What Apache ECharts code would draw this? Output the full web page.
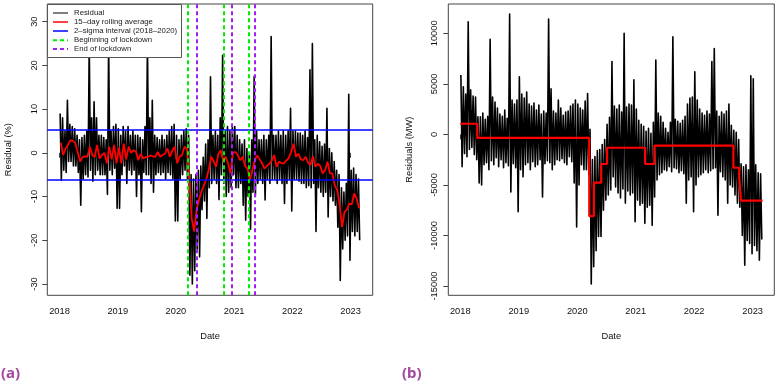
<!DOCTYPE html>
<html><head><meta charset="utf-8">
<script src="https://cdn.jsdelivr.net/npm/echarts@6/dist/echarts.min.js"></script>
<style>html,body{margin:0;padding:0;background:#fff}#c{width:776px;height:384px}</style>
</head><body><div id="c"></div>
<script>
// ---------- common ----------
const startYear = 2018;
const binsPerYear = 24; // half-month bins
const yearTicks = [2018, 2019, 2020, 2021, 2022, 2023];
const pctTicks = [-30, -20, -10, 0, 10, 20, 30];
const mwTicks = [-15000, -10000, -5000, 0, 5000, 10000];

// ---------- panel (a): residual (%) ----------
// upper / lower excursion of daily residuals in each half-month bin
const resPctHi = [
  9, 8, 5, 12, 6.5, 6, 5.5, 4, 3, 3.5, 4, 5, 25, 8, 11.7, 8, 4, 4, 3.5, 3, 25, 5, 6, 6.5,
  5.5, 4, 6, 5, 6, 4, 5, 4, 4, 3.5, 3, 6, 25, 8, 12, 4, 3.5, 3, 4, 3, 4, 5, 6, 6.5,
  4, 3, 4, 5, 5.5, 4, -5, -6, -5, -4, -3, -1, 2, 3, 17.4, 4, 5, 4, 8, 22.3, 5, 6, 5, 6,
  6, 4, 3, 2, 3, 1, 0, 3, 17.5, 5, 3, 3, 4, 3, 4, 26.6, 4, 4, 5, 4, 5, 4, 5, 10.2,
  5, 5, 4.5, 4.5, 4, 5, 3.5, 19, 25, 3, 4, 2.5, 1.5, 2, 10.2, 1, 0, -2, -4, -5, -8, -9, -7, 13.4,
  -4, -3.5, -5, -6
];
const resPctLo = [
  -6.3, -4, -4.5, -2, -2, -3, -3, -4.5, -12, -6, -5, -5.5, -4, -6.5, -5, -4, -5, -5, -5, -9.5, -4, -5, -3.5, -12.7,
  -12.7, -5, -3, -7, -4, -5, -4, -10, -5, -13.5, -4.5, -5, -5, -7, -9, -5, -4.5, -5, -4.5, -6, -4.5, -5, -6, -15.6,
  -15.6, -6, -5, -4, -6, -28, -30, -27, -22, -23.8, -13, -11, -15, -8, -7, -6, -7, -10.7, -5, -7, -10, -9, -8, -5,
  -8, -8, -7, -12, -15.4, -10, -17.5, -9, -10, -7, -6, -7, -10.8, -6, -7, -6, -6, -7, -6, -7, -11.6, -7, -6, -13.3,
  -6, -6, -6.5, -7, -7, -8, -7.5, -8, -7, -18, -8, -9, -10, -9, -14.7, -10, -11, -12, -17, -29.2, -22, -20, -19, -24.6,
  -18, -19, -18, -20
];
// 15-day rolling average, one value per half-month bin
const rollAvg = [
  2.3, -0.5, 1.0, 1.8, 2.9, 2.7, 2.2, 0.2, -2.0, -1.0, -0.8, -0.9, 1.4, -0.5, -1.0, 1.8, -1.3, -0.5, 0.0, -2.4, 1.4, -1.5, 1.8, -2.4,
  1.2, -2.4, 2.1, -1.5, 1.4, 0.0, 0.6, 0.3, -1.7, -0.2, -1.3, -1.0, -0.9, -0.6, -0.8, -0.9, 0.2, -0.9, -0.5, -0.2, 1.0, -0.9, 0.5, 1.4,
  -2.4, -0.9, -0.5, 1.4, 1.0, -6.0, -15.0, -18.0, -13.0, -10.8, -8.9, -7.5, -6.0, -4.0, -0.9, -1.8, -3.2, -0.2, 0.6, -2.0, -0.9, -2.5, -4.7, 0.0,
  0.2, -0.5, -1.7, -0.9, -3.0, -3.6, -6.3, -4.0, -1.7, -0.6, -1.5, -2.4, -3.6, -3.0, -2.5, -1.8, -0.5, -3.2, -2.0, -2.4, -2.4, -1.8, -1.2, 0.2,
  2.1, -0.9, -0.2, -1.5, -1.7, -0.9, -2.3, -2.8, -0.8, -3.2, -2.5, -3.0, -4.7, -4.0, -2.0, -4.7, -4.7, -7.5, -8.5, -12.0, -17.0, -13.5, -13.0, -11.6,
  -11.8, -9.3, -10.5, -12.7
];
const sigmaBounds = [5.35, -6.09];
const lockStart = [2020.21, 2020.82, 2021.25];
const lockEnd = [2020.355, 2020.957, 2021.36];

// ---------- panel (b): residuals (MW) ----------
const resMwHi = [
  5870, 4700, 4000, 11150, 4400, 3800, 3700, 1750, 1750, 2100, 1500, 1800, 9400, 3700, 3200, 2600, 2000, 1800, 2400, 1600, 11900, 3400, 3000, 3400,
  5700, 4000, 3600, 4200, 3000, 2800, 3100, 2400, 2900, 2000, 2300, 2100, 11400, 4500, 2300, 2100, 3400, 2600, 1900, 2200, 2300, 2800, 3000, 3400,
  3000, 2600, 2400, 3300, 4050, 500, -2500, -2200, -1600, -1500, -1000, -500, 1000, 1700, 7200, 2800, 2500, 2900, 2200, 10000, 2700, 3000, 2900, 5400,
  2500, 1400, 1000, 800, 300, 600, 100, 1200, 7350, 2100, 1800, 1200, 600, 200, 1200, 9650, 1500, 1300, 1100, 1400, 1800, 3000, 3600, 3700,
  6200, 3400, 2500, 2100, 1900, 2300, 2000, 7200, 8500, 2300, 1800, 2200, 2000, 2300, 3000, 900, 400, 200, -500, -2900, -3200, -3000, -3500, 5800,
  5500, -3000, -3800, -3900
];
const resMwLo = [
  -3200, -1900, -2200, -1500, -1300, -2000, -2500, -4800, -5000, -3000, -2800, -3500, -2600, -3000, -2300, -3200, -2500, -3300, -2800, -3100, -5700, -2900, -3300, -7650,
  -3500, -4200, -3000, -2800, -3500, -2700, -3200, -3000, -2500, -6200, -2900, -2600, -2800, -3500, -3000, -2500, -2600, -2400, -2800, -3000, -2200, -2700, -4800, -9150,
  -5000, -3000, -3500, -3500, -4000, -14800, -13100, -11500, -10100, -10100, -7500, -6500, -6000, -5500, -4200, -5200, -5800, -6300, -5400, -6800, -5600, -6000, -5800, -8650,
  -6500, -7000, -6800, -8800, -7200, -7000, -9000, -6200, -4500, -4000, -3800, -3500, -3600, -3200, -3700, -3300, -3400, -3800, -3600, -3900, -6800, -4500, -4200, -7650,
  -5000, -4200, -4000, -3800, -3500, -3800, -3600, -3400, -3300, -8000, -3700, -4200, -4500, -6800, -5000, -5200, -6000, -6800, -7200, -10000, -12950, -10500, -10800, -11800,
  -11000, -11500, -12450, -10400
];
// piecewise-constant level (red step)
const stepStart = [2018.0, 2018.29, 2020.205, 2020.285, 2020.41, 2020.51, 2021.16, 2021.32, 2022.67, 2022.77, 2022.80];
const stepLevel = [1050, -350, -8080, -4780, -2930, -1320, -2930, -1120, -3300, -4250, -6560];
const stepEnd = 2023.17;

// ---------- build ----------
function zigzag(hi, lo) {
  const out = [];
  for (let i = 0; i < hi.length; i++) {
    const t0 = startYear + i / binsPerYear;
    out.push([t0 + 0.25 / binsPerYear, hi[i]]);
    out.push([t0 + 0.75 / binsPerYear, lo[i]]);
  }
  return out;
}
const avgData = rollAvg.map((v, i) => [startYear + (i + 0.5) / binsPerYear, v]);
const stepData = stepStart.map((t, i) => [t, stepLevel[i]]).concat([[stepEnd, stepLevel[stepLevel.length - 1]]]);

const FF = 'Liberation Sans, Arial, Helvetica, sans-serif';
const txt = {color: '#111', fontFamily: FF, fontSize: 9.3};

function xAx(gi, min, max) {
  return {
    type: 'value', gridIndex: gi, min: min, max: max,
    splitLine: {show: false}, axisLine: {show: false},
    axisTick: {show: true, customValues: yearTicks, length: 5, lineStyle: {color: '#444'}},
    axisLabel: Object.assign({customValues: yearTicks, margin: 12, formatter: v => String(v)}, txt),
    name: 'Date', nameLocation: 'middle', nameGap: 37, nameTextStyle: Object.assign({}, txt)
  };
}
function yAx(gi, min, max, ticks, name, gap, margin) {
  return {
    type: 'value', gridIndex: gi, min: min, max: max,
    splitLine: {show: false}, axisLine: {show: false},
    axisTick: {show: true, customValues: ticks, length: 5, lineStyle: {color: '#444'}},
    axisLabel: Object.assign({customValues: ticks, rotate: 90, margin: margin, formatter: v => String(v)}, txt),
    name: name, nameLocation: 'middle', nameGap: gap, nameRotate: 90, nameTextStyle: Object.assign({}, txt)
  };
}

// legend for panel (a)
const legItems = [
  {label: 'Residual', color: '#000', dash: null, w: 1},
  {label: '15\u2013day rolling average', color: '#ff0000', dash: null, w: 1.5},
  {label: '2\u2013sigma interval (2018\u20132020)', color: '#0000ff', dash: null, w: 1.5},
  {label: 'Beginning of lockdown', color: '#00ee00', dash: [4, 3], w: 2},
  {label: 'End of lockdown', color: '#a020f0', dash: [4, 3], w: 2}
];
const legRows = [13, 22, 31, 40.3, 49];
const graphics = [
  {type: 'rect', z: 100, shape: {x: 47.5, y: 4.5, width: 134, height: 53}, style: {fill: '#fff', stroke: '#555', lineWidth: 1}}
];
legItems.forEach((it, i) => {
  graphics.push({type: 'line', z: 101, shape: {x1: 53, y1: legRows[i], x2: 68, y2: legRows[i]},
    style: {stroke: it.color, lineWidth: it.w, lineDash: it.dash}});
  graphics.push({type: 'text', z: 101, x: 74, y: legRows[i],
    style: {text: it.label, fill: '#222', font: '7.8px ' + FF, verticalAlign: 'middle', textVerticalAlign: 'middle'}});
});
graphics.push({type: 'text', z: 101, x: 1, y: 366, style: {text: '(a)', fill: '#a3489e', font: 'bold 15px "Noto Sans", sans-serif'}});
graphics.push({type: 'text', z: 101, x: 402, y: 366, style: {text: '(b)', fill: '#a3489e', font: 'bold 15px "Noto Sans", sans-serif'}});

const chart = echarts.init(document.getElementById('c'), null, {renderer: 'canvas'});
chart.setOption({
  animation: false,
  backgroundColor: '#fff',
  grid: [
    {left: 47.3, top: 4, width: 325.4, height: 291.3, show: true, borderColor: '#444', borderWidth: 1, backgroundColor: 'transparent'},
    {left: 448.3, top: 4, width: 326, height: 291.3, show: true, borderColor: '#444', borderWidth: 1, backgroundColor: 'transparent'}
  ],
  xAxis: [xAx(0, 2017.79, 2023.38), xAx(1, 2017.795, 2023.37)],
  yAxis: [
    yAx(0, -32.6, 34.05, pctTicks, 'Residual (%)', 34, 8),
    yAx(1, -15920, 12900, mwTicks, 'Residuals (MW)', 34, 9)
  ],
  series: [
    {type: 'line', xAxisIndex: 0, yAxisIndex: 0, data: zigzag(resPctHi, resPctLo), showSymbol: false, z: 2,
      lineStyle: {color: '#000', width: 1.6, join: 'round'}, silent: true},
    {type: 'line', xAxisIndex: 0, yAxisIndex: 0, data: avgData, showSymbol: false, z: 3,
      lineStyle: {color: '#ff0000', width: 1.8}, silent: true},
    {type: 'line', xAxisIndex: 0, yAxisIndex: 0, data: [], z: 4,
      markLine: {silent: true, symbol: ['none', 'none'], label: {show: false},
        lineStyle: {color: '#0000ff', width: 1.5, type: 'solid'},
        data: sigmaBounds.map(v => ({yAxis: v}))}},
    {type: 'line', xAxisIndex: 0, yAxisIndex: 0, data: [], z: 5,
      markLine: {silent: true, symbol: ['none', 'none'], label: {show: false},
        lineStyle: {color: '#00ee00', width: 2, type: [4, 3]},
        data: lockStart.map(v => ({xAxis: v}))}},
    {type: 'line', xAxisIndex: 0, yAxisIndex: 0, data: [], z: 5,
      markLine: {silent: true, symbol: ['none', 'none'], label: {show: false},
        lineStyle: {color: '#a020f0', width: 2, type: [4, 3]},
        data: lockEnd.map(v => ({xAxis: v}))}},
    {type: 'line', xAxisIndex: 1, yAxisIndex: 1, data: zigzag(resMwHi, resMwLo), showSymbol: false, z: 2,
      lineStyle: {color: '#000', width: 1.6, join: 'round'}, silent: true},
    {type: 'line', xAxisIndex: 1, yAxisIndex: 1, data: stepData, step: 'end', showSymbol: false, z: 3,
      lineStyle: {color: '#ff0000', width: 2.2}, silent: true}
  ],
  graphic: graphics
});
</script>
</body></html>
